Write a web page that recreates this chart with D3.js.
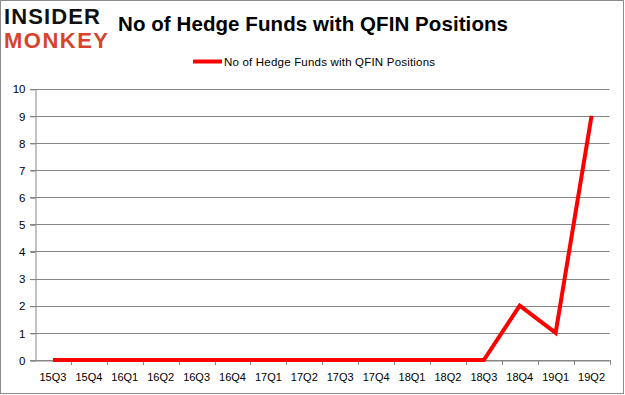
<!DOCTYPE html>
<html>
<head>
<meta charset="utf-8">
<script src="https://cdn.jsdelivr.net/npm/d3@7"></script>
<style>
  body { margin: 0; background: #fff; }
  text { font-family: "Liberation Sans", Arial, sans-serif; }
</style>
</head>
<body>
<div id="chart"></div>
<script>
const quarters = ['15Q3', '15Q4', '16Q1', '16Q2', '16Q3', '16Q4', '17Q1', '17Q2',
  '17Q3', '17Q4', '18Q1', '18Q2', '18Q3', '18Q4', '19Q1', '19Q2'];
const funds = [0, 0, 0, 0, 0, 0, 0, 0, 0, 0, 0, 0, 0, 2, 1, 9];
const yTicks = [0, 1, 2, 3, 4, 5, 6, 7, 8, 9, 10];

const width = 625;
const height = 395;
const plot = {left: 35, right: 609.5, top: 88.7, bottom: 360};

let svg = d3.select('#chart').append('svg')
  .attr('width', width)
  .attr('height', height)

// outer frame
svg.append('rect')
  .attr('x', 0.5).attr('y', 0.5)
  .attr('width', width - 2).attr('height', height - 2)
  .attr('fill', '#fff')
  .attr('stroke', '#8c8c8c')

let x = d3.scaleBand()
  .domain(quarters)
  .range([plot.left, plot.right])

let y = d3.scaleLinear()
  .domain([0, 10])
  .range([plot.bottom, plot.top])

// gridlines
svg.append('g')
  .selectAll('line')
  .data(yTicks)
  .join('line')
    .attr('x1', plot.left - 5)
    .attr('x2', plot.right)
    .attr('y1', d => Math.round(y(d)) + 0.5)
    .attr('y2', d => Math.round(y(d)) + 0.5)
    .attr('stroke', '#868686')

// y axis
let yAxis = svg.append('g')
  .attr('transform', `translate(${plot.left + 0.5}, 0.5)`)
  .call(d3.axisLeft(y).tickValues(yTicks).tickSize(5).tickPadding(5))
yAxis.select('.domain').attr('stroke', '#868686')
yAxis.selectAll('line').attr('stroke', '#868686')
yAxis.selectAll('text')
  .attr('font-size', 11.5)
  .attr('fill', '#000')
  .style('font-family', '"Liberation Sans", Arial, sans-serif')

// x axis
let xAxis = svg.append('g')
  .attr('transform', `translate(0, ${Math.round(plot.bottom) + 0.5})`)
  .call(d3.axisBottom(x).tickSizeOuter(0).tickSize(0).tickPadding(13))
xAxis.select('.domain').attr('stroke', '#868686')
xAxis.selectAll('text')
  .attr('font-size', 11)
  .attr('fill', '#000')
  .style('font-family', '"Liberation Sans", Arial, sans-serif')

// x tick marks at band edges
svg.append('g')
  .selectAll('line')
  .data(quarters.map((q, i) => i + 1))
  .join('line')
    .attr('x1', i => Math.round(plot.left + i * x.step()) + 0.5)
    .attr('x2', i => Math.round(plot.left + i * x.step()) + 0.5)
    .attr('y1', Math.round(plot.bottom))
    .attr('y2', Math.round(plot.bottom) + 5)
    .attr('stroke', '#868686')

// series line
let line = d3.line()
  .x((d, i) => x(quarters[i]) + x.bandwidth() / 2)
  .y(d => y(d))

svg.append('path')
  .datum(funds)
  .attr('d', line)
  .attr('fill', 'none')
  .attr('stroke', '#ff0000')
  .attr('stroke-width', 4)
  .attr('stroke-linejoin', 'miter')

// title
svg.append('text')
  .attr('x', 313)
  .attr('y', 31)
  .attr('text-anchor', 'middle')
  .attr('font-size', 20.5)
  .attr('font-weight', 'bold')
  .attr('textLength', 390)
  .attr('fill', '#000')
  .text('No of Hedge Funds with QFIN Positions')

// legend
svg.append('line')
  .attr('x1', 193).attr('x2', 222)
  .attr('y1', 61.5).attr('y2', 61.5)
  .attr('stroke', '#ff0000')
  .attr('stroke-width', 4)

svg.append('text')
  .attr('x', 224)
  .attr('y', 65.5)
  .attr('font-size', 11.5)
  .attr('textLength', 211)
  .attr('fill', '#000')
  .text('No of Hedge Funds with QFIN Positions')

// logo
svg.append('text')
  .attr('x', 4)
  .attr('y', 24)
  .attr('font-size', 22)
  .attr('font-weight', 'bold')
  .attr('textLength', 96)
  .attr('fill', '#111')
  .text('INSIDER')

svg.append('text')
  .attr('x', 4)
  .attr('y', 48)
  .attr('font-size', 22)
  .attr('font-weight', 'bold')
  .attr('textLength', 104)
  .attr('fill', '#d8432c')
  .text('MONKEY')
</script>
</body>
</html>
